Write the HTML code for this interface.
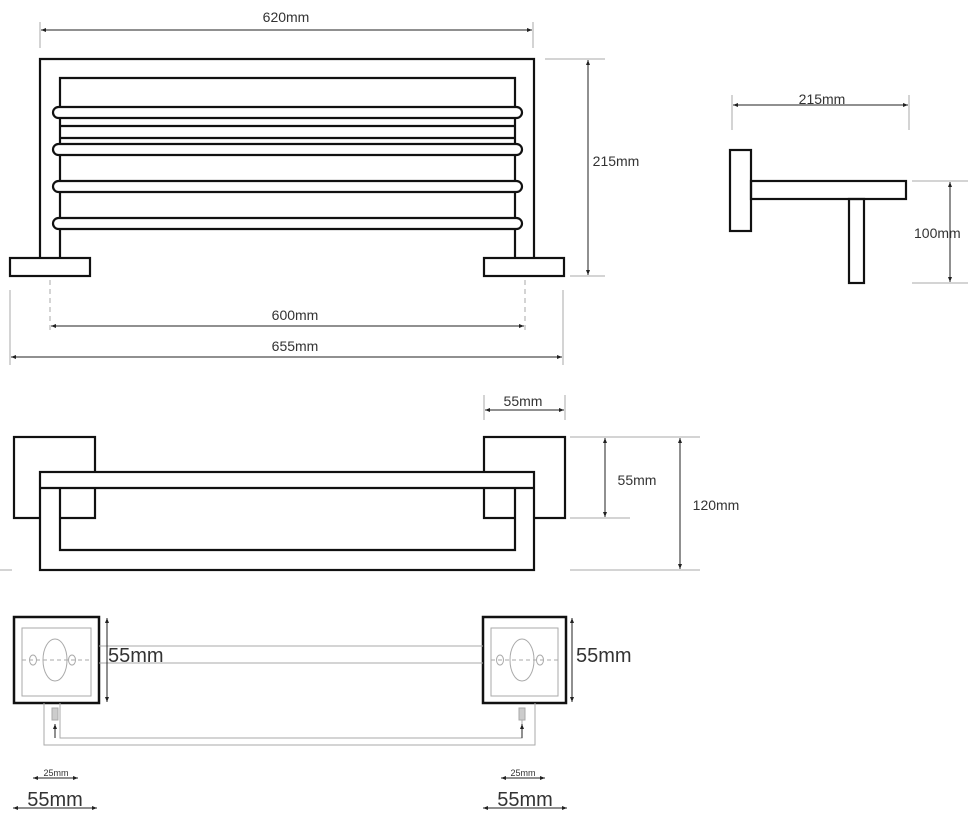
<!DOCTYPE html>
<html><head><meta charset="utf-8"><style>
html,body{margin:0;padding:0;background:#fff;}
svg{display:block;font-family:"Liberation Sans","DejaVu Sans",sans-serif;}
</style></head><body>
<svg width="970" height="822" viewBox="0 0 970 822" xmlns="http://www.w3.org/2000/svg">
<defs>
<marker id="a" viewBox="0 0 10 10" refX="10" refY="5" markerWidth="5" markerHeight="5" orient="auto-start-reverse"><path d="M0,1 L10,5 L0,9z" fill="#222"/></marker>
</defs>
<g fill="none" stroke="#111" stroke-width="2.2">
<!-- front view -->
<path d="M40,258 V59 H534 V258"/>
<path d="M60,258 V78 H515 V258"/>
<rect x="53" y="107" width="469" height="11" rx="5.5" fill="#fff"/>
<line x1="60" y1="126" x2="515" y2="126"/><line x1="60" y1="138" x2="515" y2="138"/>
<rect x="53" y="144" width="469" height="11" rx="5.5" fill="#fff"/>
<rect x="53" y="181" width="469" height="11" rx="5.5" fill="#fff"/>
<rect x="53" y="218" width="469" height="11" rx="5.5" fill="#fff"/>
<rect x="10" y="258" width="80" height="18" fill="#fff"/>
<rect x="484" y="258" width="80" height="18" fill="#fff"/>
<!-- side view -->
<rect x="730" y="150" width="21" height="81"/>
<rect x="751" y="181" width="155" height="18"/>
<rect x="849" y="199" width="15" height="84"/>
<!-- middle view -->
<rect x="14" y="437" width="81" height="81"/>
<rect x="484" y="437" width="81" height="81"/>
<path d="M40,472 H534 V570 H40 Z M60,488 V550 H515 V488 Z" fill="#fff" fill-rule="evenodd" stroke="none"/>
<rect x="40" y="472" width="494" height="98"/>
<path d="M40,488 H534"/>
<path d="M60,488 V550 H515 V488"/>
<!-- bottom view -->
<rect x="14" y="617" width="85" height="86" stroke-width="2.5"/>
<rect x="483" y="617" width="83" height="86" stroke-width="2.5"/>
</g>
<g fill="none" stroke="#aaa" stroke-width="1">
<rect x="22" y="628" width="69" height="68"/>
<rect x="491" y="628" width="67" height="68"/>
<ellipse cx="55" cy="660" rx="12" ry="21"/><ellipse cx="522" cy="660" rx="12" ry="21"/>
<ellipse cx="33" cy="660" rx="3.5" ry="5"/><ellipse cx="72" cy="660" rx="3.5" ry="5"/>
<ellipse cx="500" cy="660" rx="3.5" ry="5"/><ellipse cx="540" cy="660" rx="3.5" ry="5"/>
<g stroke-dasharray="4,3"><line x1="22" y1="660" x2="91" y2="660"/><line x1="491" y1="660" x2="558" y2="660"/></g>
<line x1="99" y1="646" x2="483" y2="646"/><line x1="99" y1="663" x2="483" y2="663"/>
<path d="M60,703 V738 H522 V720"/>
<path d="M44,703 V745 H535 V703"/>
<rect x="52" y="708" width="6" height="12" fill="#ccc"/><rect x="519" y="708" width="6" height="12" fill="#ccc"/>
<!-- extension lines -->
<line x1="40" y1="22" x2="40" y2="48"/><line x1="533" y1="22" x2="533" y2="48"/>
<line x1="545" y1="59" x2="605" y2="59"/><line x1="570" y1="276" x2="605" y2="276"/>
<g stroke-dasharray="5,4"><line x1="50" y1="280" x2="50" y2="332"/><line x1="525" y1="280" x2="525" y2="332"/></g>
<line x1="10" y1="290" x2="10" y2="365"/><line x1="563" y1="290" x2="563" y2="365"/>
<line x1="732" y1="95" x2="732" y2="130"/><line x1="909" y1="95" x2="909" y2="130"/>
<line x1="912" y1="181" x2="968" y2="181"/><line x1="912" y1="283" x2="968" y2="283"/>
<line x1="484" y1="395" x2="484" y2="420"/><line x1="565" y1="395" x2="565" y2="420"/>
<line x1="570" y1="437" x2="700" y2="437"/><line x1="570" y1="518" x2="630" y2="518"/><line x1="570" y1="570" x2="700" y2="570"/>
<line x1="0" y1="570" x2="12" y2="570"/>
</g>
<g stroke="#222" stroke-width="1" marker-start="url(#a)" marker-end="url(#a)">
<line x1="41" y1="30" x2="532" y2="30"/>
<line x1="588" y1="60" x2="588" y2="275"/>
<line x1="51" y1="326" x2="524" y2="326"/>
<line x1="11" y1="357" x2="562" y2="357"/>
<line x1="733" y1="105" x2="908" y2="105"/>
<line x1="950" y1="182" x2="950" y2="282"/>
<line x1="485" y1="410" x2="564" y2="410"/>
<line x1="605" y1="438" x2="605" y2="517"/>
<line x1="680" y1="438" x2="680" y2="569"/>
<line x1="107" y1="618" x2="107" y2="702"/>
<line x1="572" y1="618" x2="572" y2="702"/>
<line x1="33" y1="778" x2="78" y2="778"/>
<line x1="501" y1="778" x2="545" y2="778"/>
<line x1="13" y1="808" x2="97" y2="808"/>
<line x1="483" y1="808" x2="567" y2="808"/>
</g>
<g stroke="#222" stroke-width="1" marker-end="url(#a)">
<line x1="55" y1="738" x2="55" y2="724"/><line x1="522" y1="738" x2="522" y2="724"/>
</g>
<g fill="#333" font-size="14" text-anchor="middle">
<text x="286" y="22">620mm</text>
<text x="616" y="166">215mm</text>
<text x="295" y="320">600mm</text>
<text x="295" y="351">655mm</text>
<text x="822" y="104">215mm</text>
<text x="914" y="238" text-anchor="start">100mm</text>
<text x="523" y="406">55mm</text>
<text x="637" y="485">55mm</text>
<text x="716" y="510">120mm</text>
<text x="56" y="776" font-size="9">25mm</text>
<text x="523" y="776" font-size="9">25mm</text>
<text x="55" y="806" font-size="20">55mm</text>
<text x="525" y="806" font-size="20">55mm</text>
<text x="108" y="662" font-size="20" text-anchor="start">55mm</text>
<text x="576" y="662" font-size="20" text-anchor="start">55mm</text>
</g>
</svg>
</body></html>
